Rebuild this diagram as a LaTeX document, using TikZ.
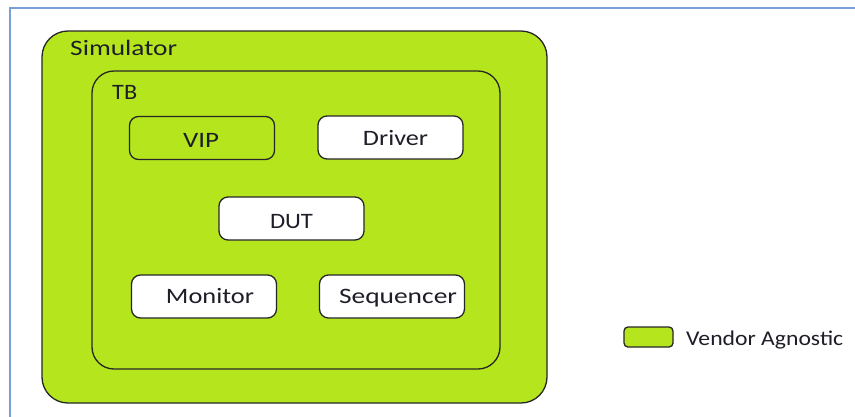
\documentclass[tikz,border=0pt]{standalone}
\usepackage{fontspec}
\setmainfont{Carlito}
\usepackage{graphicx}
\definecolor{vgreen}{RGB}{181,230,29}
\definecolor{frameblue}{RGB}{120,160,215}
\definecolor{txt}{RGB}{30,30,40}
\newcommand{\fitw}[2]{\resizebox{#1pt}{\height}{#2}}
\tikzset{
  outer/.style={draw=black!85, line width=1.3pt, fill=vgreen, rounded corners=#1},
  smallbox/.style={draw=black!85, line width=1.3pt, rounded corners=9pt, minimum width=145pt, minimum height=43pt, inner sep=0pt},
  lbl/.style={anchor=base, inner sep=0pt, text=txt, font=\fontsize{22}{26}\selectfont},
}
\begin{document}
\begin{tikzpicture}[x=1pt,y=-1pt]
\useasboundingbox (0,0) rectangle (855,416);
\fill[white] (0,0) rectangle (855,416);
\draw[frameblue, line width=2pt] (10,417) -- (10,8) -- (856,8);
% containers
\node[outer=26pt, minimum width=505pt, minimum height=372pt, inner sep=0pt] (sim) at (294.5,217) {};
\node[outer=22pt, minimum width=408pt, minimum height=298pt, inner sep=0pt] (tb) at (296,220) {};
\node[lbl, anchor=base west] (simlbl) at (70,55) {\fitw{107}{Simulator}};
\node[lbl, anchor=base west] (tblbl) at (112,99) {\fitw{25}{TB}};
% boxes
\node[smallbox, fill=vgreen] (vip) at (202,138) {};
\node[smallbox, fill=white] (drv) at (390.5,137.5) {};
\node[smallbox, fill=white] (dut) at (291.5,218.5) {};
\node[smallbox, fill=white] (mon) at (204,296.5) {};
\node[smallbox, fill=white] (seq) at (392,296.5) {};
\node[lbl] (viplbl) at (201,147) {\fitw{36}{VIP}};
\node[lbl] (drvlbl) at (395.5,145) {\fitw{65}{Driver}};
\node[lbl] (dutlbl) at (291.5,228) {\fitw{43}{DUT}};
\node[lbl] (monlbl) at (210,303) {\fitw{88}{Monitor}};
\node[lbl] (seqlbl) at (398,303) {\fitw{118}{Sequencer}};
% legend
\node[draw=black!85, line width=1.3pt, fill=vgreen, rounded corners=4pt, minimum width=49pt, minimum height=20pt, inner sep=0pt] (leg) at (648.5,337) {};
\node[lbl, anchor=base west, font=\fontsize{21}{25}\selectfont] (leglbl) at (686,345) {\fitw{157}{Vendor Agnostic}};
\end{tikzpicture}
\end{document}
